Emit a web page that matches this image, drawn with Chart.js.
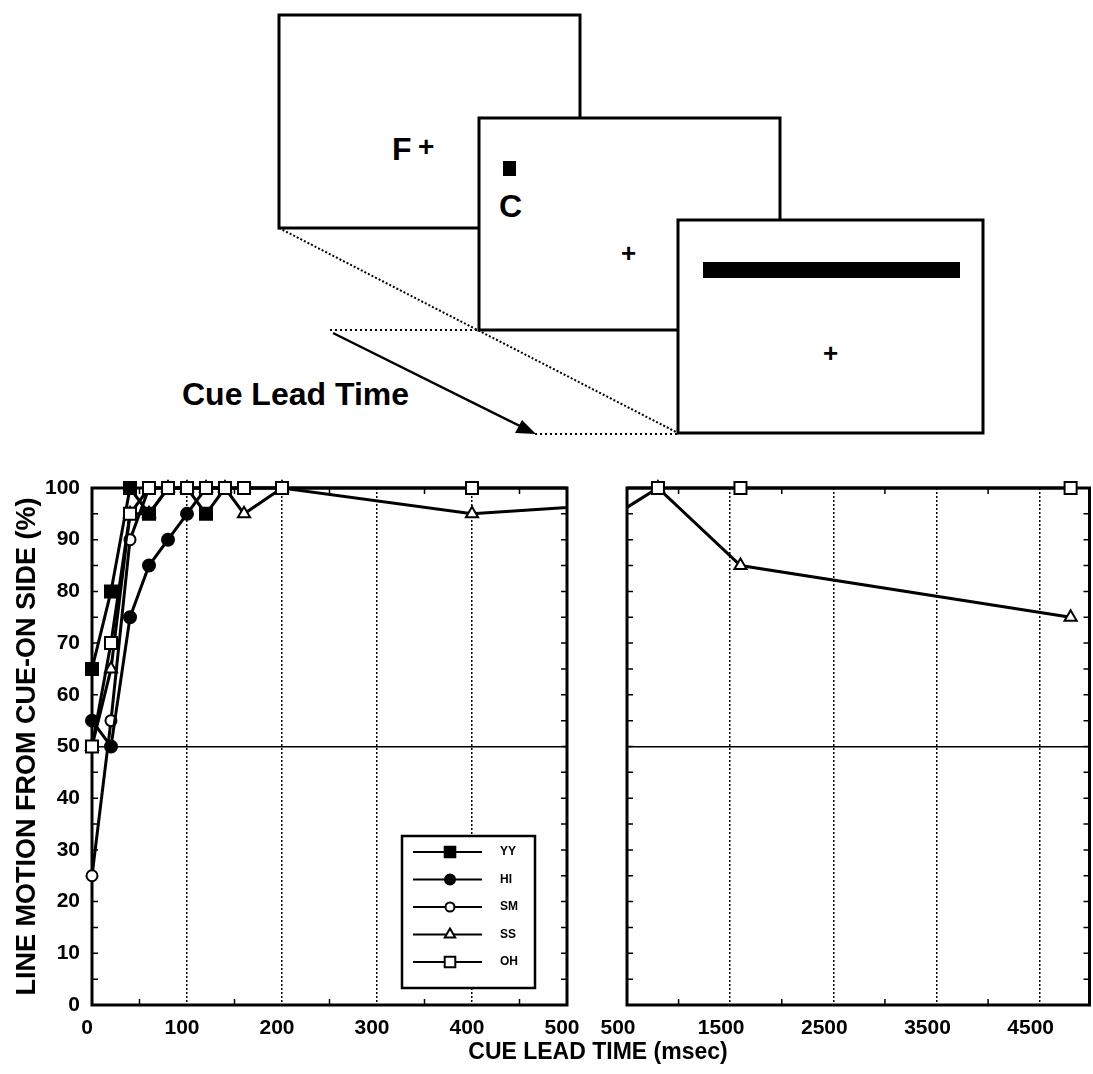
<!DOCTYPE html>
<html>
<head>
<meta charset="utf-8">
<script src="https://cdn.jsdelivr.net/npm/chart.js@4.4.1/dist/chart.umd.min.js"></script>
<style>
html, body { margin: 0; padding: 0; background: #fff; }
body { width: 1093px; height: 1074px; overflow: hidden; position: relative; font-family: "Liberation Sans", Arial, sans-serif; }
#diagram { position: absolute; left: 0; top: 0; }
#leftBox { position: absolute; left: 0; top: 470px; width: 585px; height: 604px; }
#rightBox { position: absolute; left: 590px; top: 470px; width: 510px; height: 604px; }
#xTitle { position: absolute; left: 0; width: 1196px; top: 1038px; text-align: center; font-weight: bold; font-size: 23px; line-height: 26px; }
</style>
</head>
<body>

<svg id="diagram" width="1093" height="460" font-family="Liberation Sans, Arial, sans-serif" font-weight="bold">
  <rect x="279" y="15" width="301" height="213" fill="#fff" stroke="#000" stroke-width="3"/>
  <text x="392" y="160" font-size="32">F</text>
  <text x="418" y="156" font-size="28">+</text>
  <line x1="279" y1="228" x2="678" y2="433" stroke="#000" stroke-width="2" stroke-dasharray="2,2"/>
  <rect x="479" y="118" width="301" height="212" fill="#fff" stroke="#000" stroke-width="3"/>
  <rect x="503" y="161" width="13" height="15" fill="#000"/>
  <text x="499" y="217" font-size="32">C</text>
  <text x="621" y="262" font-size="26">+</text>
  <line x1="330" y1="330" x2="479" y2="330" stroke="#000" stroke-width="2" stroke-dasharray="2,3"/>
  <rect x="678" y="220" width="305" height="213" fill="#fff" stroke="#000" stroke-width="3"/>
  <rect x="703" y="262" width="257" height="16" fill="#000"/>
  <text x="823" y="362" font-size="26">+</text>
  <line x1="535" y1="434" x2="678" y2="434" stroke="#000" stroke-width="2" stroke-dasharray="2,3"/>
  <line x1="333" y1="333" x2="522" y2="427" stroke="#000" stroke-width="2.5"/>
  <polygon points="536,434 515,433 522,420" fill="#000"/>
  <text x="182" y="405" font-size="32">Cue Lead Time</text>
</svg>

<div id="leftBox"><canvas id="leftChart"></canvas></div>
<div id="rightBox"><canvas id="rightChart"></canvas></div>
<div id="xTitle">CUE LEAD TIME (msec)</div>

<script>
// cue lead time (msec) and % line motion from cue-on side, per subject
var yyTimes = [0, 20, 40, 60, 80, 100, 120, 140, 160, 200];
var yyPct   = [65, 80, 100, 95, 100, 100, 95, 100, 100, 100];
var hiTimes = [0, 20, 40, 60, 80, 100, 120, 140];
var hiPct   = [55, 50, 75, 85, 90, 95, 100, 100];
var smTimes = [0, 20, 40, 60, 80, 100];
var smPct   = [25, 55, 90, 100, 100, 100];
var ssTimes = [0, 20, 40, 60, 80, 100, 120, 140, 160, 200, 400, 800, 1600, 4800];
var ssPct   = [50, 65, 95, 95, 100, 100, 100, 100, 95, 100, 95, 100, 85, 75];
var ohTimes = [0, 20, 40, 60, 80, 100, 120, 140, 160, 200, 400, 800, 1600, 4800];
var ohPct   = [50, 70, 95, 100, 100, 100, 100, 100, 100, 100, 100, 100, 100, 100];

var subjects = ['YY', 'HI', 'SM', 'SS', 'OH'];
// drawing order: OH on top, then YY, HI, SM, SS underneath
var drawOrder = [2, 3, 4, 5, 1];

// axis ticks
var leftTicks = [0, 100, 200, 300, 400, 500];
var rightTicks = [500, 1500, 2500, 3500, 4500];
var leftGrid = [100, 200, 300, 400];
var rightGrid = [1500, 2500, 3500, 4500];
var leftMinor = [50, 150, 250, 350, 450];
var rightMinor = [1000, 2000, 3000, 4000];
var yMinor = [5, 10, 15, 20, 25, 30, 35, 40, 45, 50, 55, 60, 65, 70, 75, 80, 85, 90, 95];
var chanceLevel = 50;

function pts(xs, ys) {
    var out = [];
    for (var i = 0; i < xs.length; i++) {
        out.push({x: xs[i], y: ys[i]});
    }
    return out;
}

function makeDatasets(clip) {
    var styles = [
        {d: pts(yyTimes, yyPct), ps: 'rect', r: 8.5, bg: '#000'},
        {d: pts(hiTimes, hiPct), ps: 'circle', r: 6, bg: '#000'},
        {d: pts(smTimes, smPct), ps: 'circle', r: 5.5, bg: '#fff'},
        {d: pts(ssTimes, ssPct), ps: 'triangle', r: 7, bg: '#fff'},
        {d: pts(ohTimes, ohPct), ps: 'rect', r: 8.5, bg: '#fff'}
    ];
    return styles.map(function(s, i) {
        return {
            label: subjects[i],
            data: s.d,
            order: drawOrder[i],
            borderColor: '#000',
            borderWidth: 3,
            pointStyle: s.ps,
            pointRadius: s.r,
            pointBackgroundColor: s.bg,
            pointBorderColor: '#000',
            pointBorderWidth: 2,
            tension: 0,
            clip: clip
        };
    });
}

// box round the plot, with short ticks pointing inward
var frameTicks = {
    id: 'frameTicks',
    beforeDatasetsDraw: function(chart, args, opts) {
        var ctx = chart.ctx, a = chart.chartArea;
        var xs = chart.scales.x, ys = chart.scales.y;
        ctx.save();
        ctx.strokeStyle = '#000';
        ctx.lineWidth = 1.5;
        ctx.beginPath();
        yMinor.forEach(function(v) {
            var y = ys.getPixelForValue(v);
            ctx.moveTo(a.left, y); ctx.lineTo(a.left + 6, y);
            ctx.moveTo(a.right, y); ctx.lineTo(a.right - 6, y);
        });
        opts.minor.forEach(function(v) {
            var x = xs.getPixelForValue(v);
            ctx.moveTo(x, a.bottom); ctx.lineTo(x, a.bottom - 6);
            ctx.moveTo(x, a.top); ctx.lineTo(x, a.top + 6);
        });
        ctx.stroke();
        ctx.lineWidth = 3;
        ctx.strokeRect(a.left, a.top, a.right - a.left, a.bottom - a.top);
        ctx.restore();
    }
};

var boxLegend = {
    id: 'boxLegend',
    afterDatasetsDraw: function(chart, args, opts) {
        if (!opts.show) return;
        var ctx = chart.ctx, a = chart.chartArea;
        var x0 = a.left + 310, y0 = a.top + 348, w = 133, h = 152;
        ctx.save();
        ctx.fillStyle = '#fff';
        ctx.fillRect(x0, y0, w, h);
        ctx.strokeStyle = '#000';
        ctx.lineWidth = 2.5;
        ctx.strokeRect(x0, y0, w, h);
        chart.data.datasets.forEach(function(ds, i) {
            var y = y0 + 16 + i * 27.5;
            ctx.lineWidth = 2;
            ctx.strokeStyle = '#000';
            ctx.beginPath();
            ctx.moveTo(x0 + 11, y);
            ctx.lineTo(x0 + 80, y);
            ctx.stroke();
            ctx.fillStyle = ds.pointBackgroundColor;
            ctx.lineWidth = ds.pointBorderWidth;
            Chart.helpers.drawPoint(ctx, {pointStyle: ds.pointStyle, radius: ds.pointRadius - 1, borderWidth: ds.pointBorderWidth, rotation: 0}, x0 + 48, y);
            ctx.fillStyle = '#000';
            ctx.font = 'bold 12px "Liberation Sans", Arial, sans-serif';
            ctx.textBaseline = 'middle';
            ctx.fillText(ds.label, x0 + 98, y);
        });
        ctx.restore();
    }
};

function makeConfig(side) {
    var isLeft = side === 'left';
    var tickVals = isLeft ? leftTicks : rightTicks;
    var gridVals = isLeft ? leftGrid : rightGrid;
    return {
        type: 'line',
        data: {
            datasets: makeDatasets(isLeft ? {left: 10, right: 0, top: 10, bottom: 10} : {left: 0, right: 10, top: 10, bottom: 10})
        },
        options: {
            responsive: true,
            maintainAspectRatio: false,
            animation: false,
            devicePixelRatio: 1,
            layout: {padding: {top: 18, right: isLeft ? 18 : 0, bottom: 0, left: 0}},
            plugins: {
                legend: {display: false},
                tooltip: {enabled: false},
                frameTicks: {minor: isLeft ? leftMinor : rightMinor},
                boxLegend: {show: isLeft}
            },
            scales: {
                x: {
                    type: 'linear',
                    min: isLeft ? 0 : 500,
                    max: isLeft ? 500 : 4983,
                    afterBuildTicks: function(scale) {
                        scale.ticks = tickVals.map(function(v) { return {value: v}; });
                    },
                    afterFit: function(scale) {
                        scale.height = 69;
                        scale.paddingLeft = 0;
                        scale.paddingRight = 0;
                    },
                    border: {display: false, dash: [2, 2]},
                    grid: {
                        drawTicks: false,
                        lineWidth: 1.5,
                        color: function(c) { return gridVals.indexOf(c.tick.value) >= 0 ? '#000' : 'rgba(0,0,0,0)'; }
                    },
                    ticks: {
                        autoSkip: false,
                        maxRotation: 0,
                        padding: 11,
                        labelOffset: isLeft ? -5 : -9,
                        color: '#000',
                        callback: function(v) { return String(v); },
                        font: {family: '"Liberation Sans", Arial, sans-serif', weight: 'bold', size: 21}
                    }
                },
                y: {
                    min: 0,
                    max: 100,
                    afterFit: function(scale) {
                        scale.width = isLeft ? 92 : 37;
                        scale.paddingTop = 0;
                        scale.paddingBottom = 0;
                    },
                    border: {display: false},
                    grid: {
                        drawTicks: false,
                        lineWidth: 1.5,
                        color: function(c) { return c.tick.value === chanceLevel ? '#000' : 'rgba(0,0,0,0)'; }
                    },
                    ticks: {
                        display: isLeft,
                        stepSize: 10,
                        padding: 12,
                        color: '#000',
                        font: {family: '"Liberation Sans", Arial, sans-serif', weight: 'bold', size: 21}
                    },
                    title: {
                        display: isLeft,
                        text: 'LINE MOTION FROM CUE-ON SIDE (%)',
                        color: '#000',
                        padding: {top: 11, bottom: 0},
                        font: {family: '"Liberation Sans", Arial, sans-serif', weight: 'bold', size: 27}
                    }
                }
            }
        },
        plugins: [frameTicks, boxLegend]
    };
}

var leftChart = new Chart(document.getElementById('leftChart'), makeConfig('left'));
var rightChart = new Chart(document.getElementById('rightChart'), makeConfig('right'));
</script>
</body>
</html>
